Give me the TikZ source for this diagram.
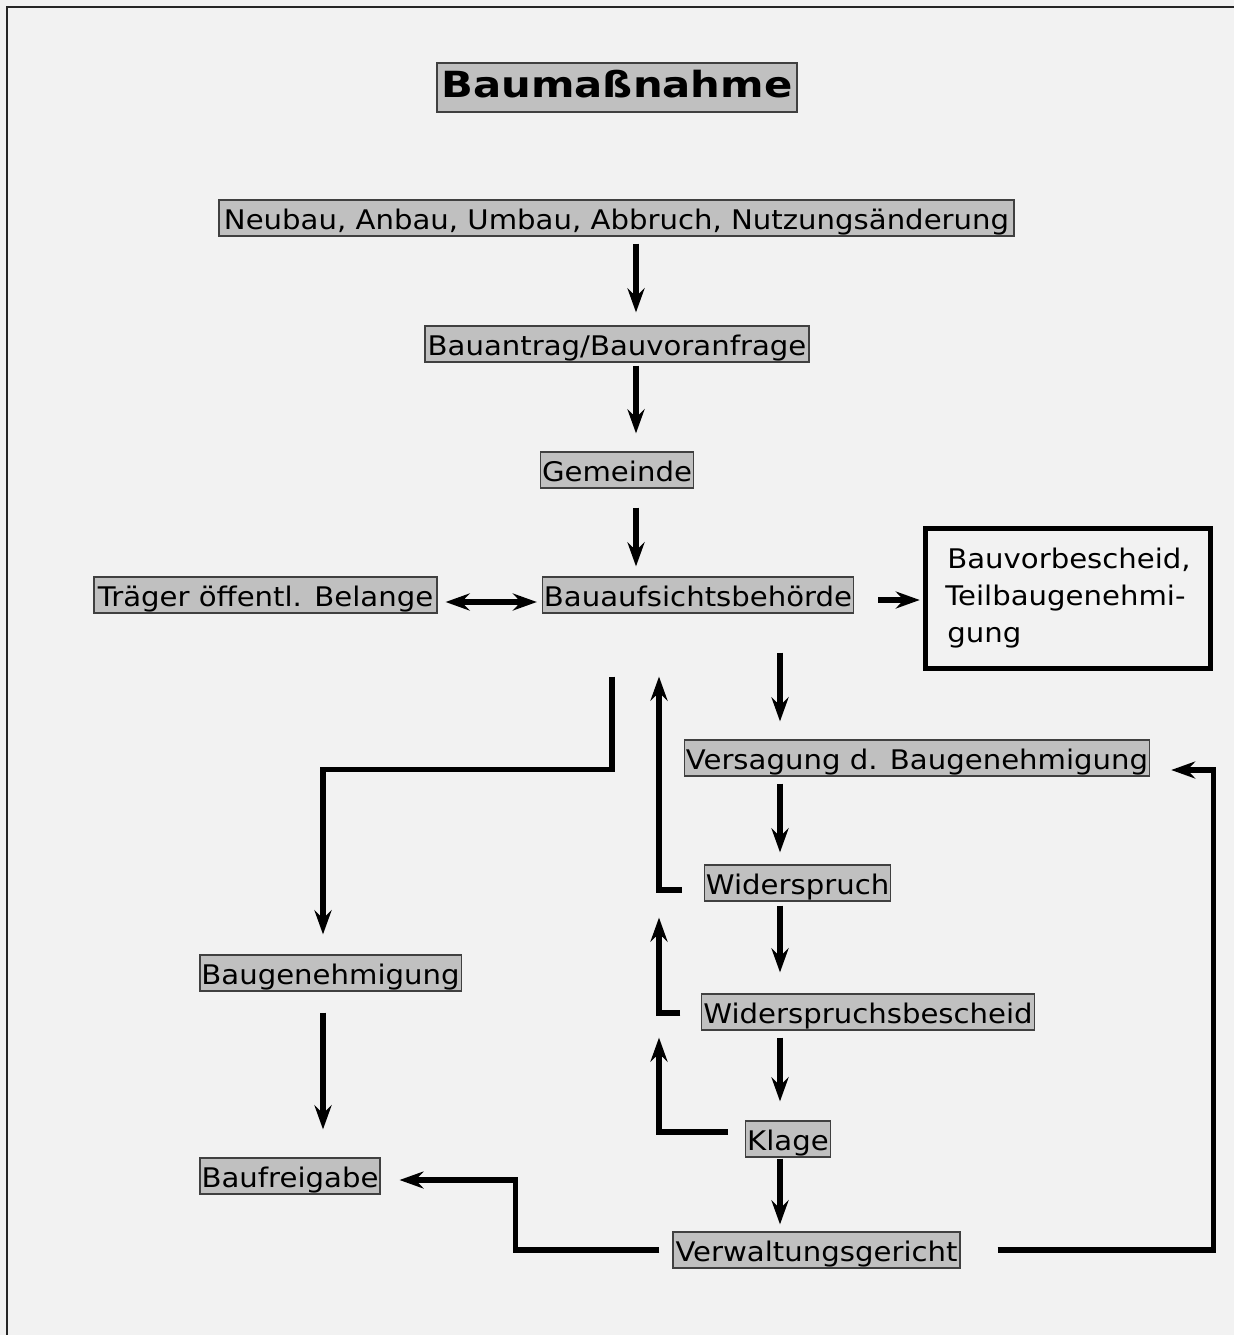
\documentclass[tikz,border=0pt]{standalone}
\usepackage{fontspec}
\setmainfont[FakeStretch=1.08]{DejaVu Sans}
\newfontfamily\titlefont[FakeStretch=1.16]{DejaVu Sans}
\usetikzlibrary{arrows.meta,calc}
\definecolor{bgcol}{HTML}{F2F2F2}
\definecolor{boxgray}{HTML}{C0C0C0}
\definecolor{edgecol}{HTML}{404040}
\tikzset{
  lbl/.style={draw=edgecol, line width=1.2pt, fill=boxgray, inner xsep=1.5pt, inner ysep=0pt,
    text height=29pt, text depth=7pt, font=\fontsize{27}{31}\selectfont},
  tip/.tip={Stealth[length=24pt,width=17pt,inset=8pt]},
  arr/.style={line width=5.5pt, -tip},
  dblarr/.style={line width=5.5pt, tip-tip},
}
\begin{document}
\begin{tikzpicture}[x=1pt,y=-1pt]
\useasboundingbox (0,0) rectangle (1234,1335);
\fill[bgcol] (0,0) rectangle (1234,1335);
\draw[line width=2pt, black!85] (7,1335) -- (7,7) -- (1234,7);

% title
\node[draw=edgecol, line width=1.2pt, fill=boxgray, inner xsep=2pt, inner ysep=0pt,
  text height=35pt, text depth=14pt, minimum width=360pt,
  font=\titlefont\bfseries\fontsize{36}{40}\selectfont] (title) at (617,87.5) {Baumaßnahme};

% nodes
\node[lbl, minimum width=795pt] (neu) at (616.5,218) {Neubau, Anbau, Umbau, Abbruch, Nutzungsänderung};
\node[lbl, minimum width=384pt] (ant) at (617,344) {Bauantrag/Bauvoranfrage};
\node[lbl, minimum width=150pt] (gem) at (617,470) {Gemeinde};
\node[lbl, minimum width=343pt] (tr) at (265.5,595) {Träger öffentl. Belange};
\node[lbl, minimum width=310pt] (bab) at (698,595) {Bauaufsichtsbehörde};
\node[draw=black, line width=5.5pt, fill=bgcol, minimum width=285pt, minimum height=140pt,
  inner sep=0pt, align=left, font=\fontsize{27}{37}\selectfont] (vb) at (1068,598.5)
  {\hspace{2pt}Bauvorbescheid,\\Teilbaugenehmi-\\\hspace{2pt}gung};
\node[lbl, minimum width=464pt] (ver) at (917,758) {Versagung d. Baugenehmigung};
\node[lbl, minimum width=185pt] (wid) at (797.5,883) {Widerspruch};
\node[lbl, minimum width=259pt] (bg) at (330.5,973) {Baugenehmigung};
\node[lbl, minimum width=328pt] (wb) at (868,1012) {Widerspruchsbescheid};
\node[lbl, minimum width=82pt] (kl) at (788,1139) {Klage};
\node[lbl, minimum width=178pt] (bf) at (290,1176) {Baufreigabe};
\node[lbl, minimum width=287pt] (vg) at (816.5,1250) {Verwaltungsgericht};

% connectors
\draw[arr] ($(neu.south)+(19.5,7)$) -- ($(ant.north)+(19,-13)$);
\draw[arr] ($(ant.south)+(19,3)$) -- ($(gem.north)+(19,-18)$);
\draw[arr] ($(gem.south)+(19,19)$) -- ($(bab.north)+(-62,-10)$);
\draw[dblarr] ($(tr.east)+(8,7)$) -- ($(bab.west)+(-5,7)$);
\draw[arr] ($(bab.east)+(24,5)$) -- ($(vb.west)+(-3,1.5)$);
\draw[arr] ($(bab.south)+(82,39)$) -- ($(ver.north)+(-137,-18)$);
\draw[arr] ($(wid.west)+(-22,7)$) -| ($(bab.south)+(-39,63)$);
\draw[arr] ($(bab.south)+(-86,63)$) |- ($(bg.north)+(-7.5,-185)$) -- ($(bg.north)+(-7.5,-20)$);
\draw[arr] ($(ver.south)+(-137,7)$) -- ($(wid.north)+(-17.5,-12)$);
\draw[arr] ($(wid.south)+(-17.5,4)$) -- ($(wb.north)+(-88,-21)$);
\draw[arr] ($(wb.west)+(-21,1)$) -| ($(wid.south)+(-138.5,16)$);
\draw[arr] ($(wb.south)+(-88,7)$) -- ($(kl.north)+(-8,-19)$);
\draw[arr] ($(kl.west)+(-17,-7)$) -| ($(wb.south)+(-209,7)$);
\draw[arr] ($(kl.south)+(-8,1)$) -- ($(vg.north)+(-36.5,-7)$);
\draw[arr] ($(vg.west)+(-13,0)$) -- ++(-144,0) |- ($(bf.east)+(19,4)$);
\draw[arr] ($(vg.east)+(37,0)$) -- ++(216,0) |- ($(ver.east)+(21,12)$);
\draw[arr] ($(bg.south)+(-7.5,21)$) -- ($(bf.north)+(33,-28)$);
\end{tikzpicture}
\end{document}
